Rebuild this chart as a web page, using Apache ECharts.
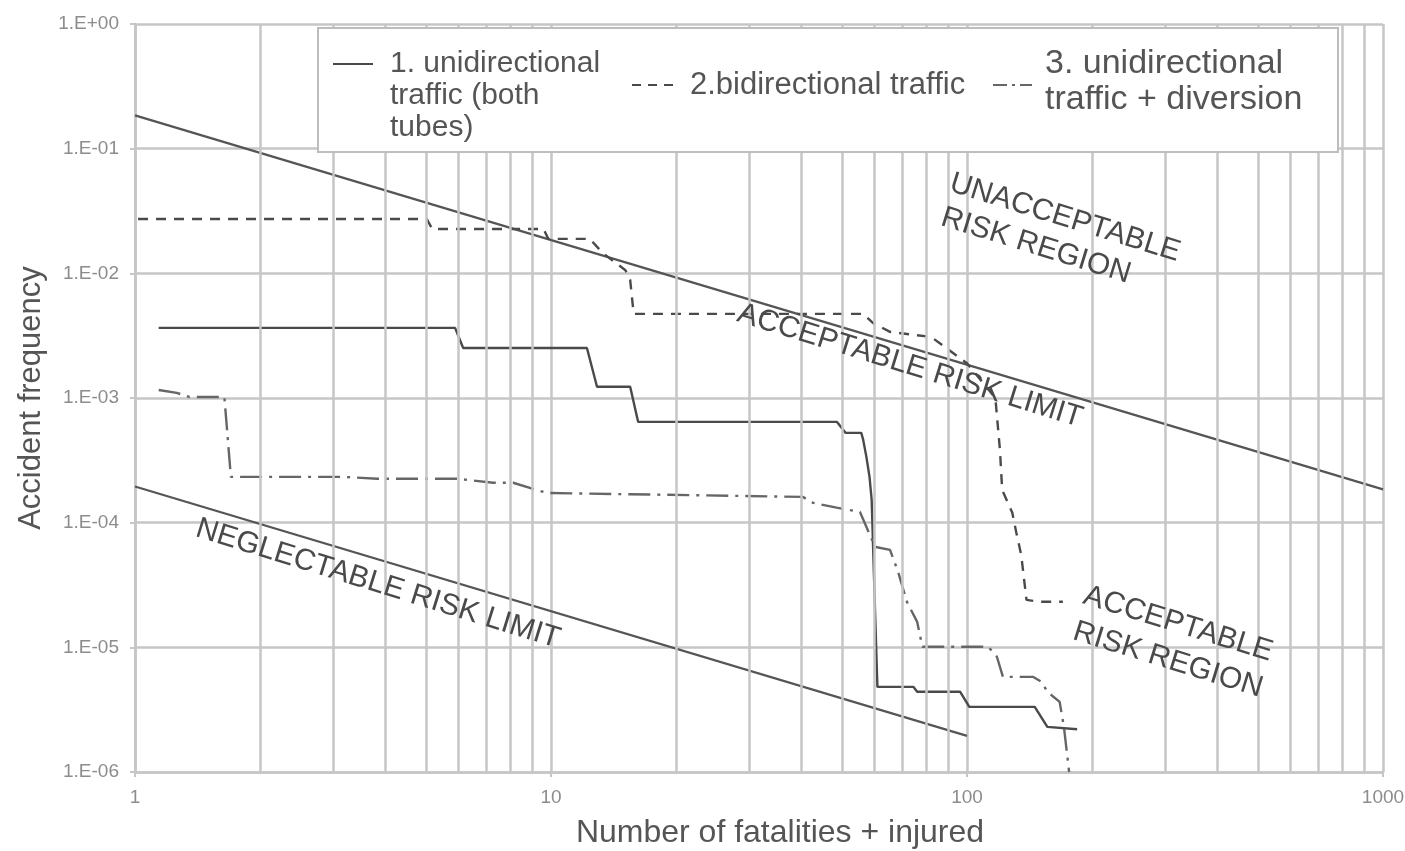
<!DOCTYPE html>
<html>
<head>
<meta charset="utf-8">
<script src="https://cdn.jsdelivr.net/npm/echarts@6/dist/echarts.min.js"></script>
<style>
  html, body { margin: 0; padding: 0; background: #fff; }
  #chart { width: 1405px; height: 851px; }
</style>
</head>
<body>
<div id="chart"></div>
<script>
// F-N curves: accident frequency against number of fatalities + injured

// 1. unidirectional traffic (both tubes)
const unidirN = [1.14, 5.88, 6.15, 12.2, 12.9, 15.5, 16.2, 48.7, 51.1, 55.7, 56.3, 57.3, 58.3, 59.0, 60.0, 60.9, 74.3, 75.9, 96.3, 101.3, 145.5, 156, 184];
const unidirF = [3.65e-3, 3.65e-3, 2.52e-3, 2.52e-3, 1.23e-3, 1.23e-3, 6.43e-4, 6.43e-4, 5.25e-4, 5.25e-4, 4.61e-4, 3.37e-4, 2.33e-4, 1.52e-4, 2.4e-5, 4.82e-6, 4.82e-6, 4.4e-6, 4.4e-6, 3.33e-6, 3.33e-6, 2.3e-6, 2.2e-6];

// 2. bidirectional traffic
const bidirN = [1.017, 5.03, 5.18, 9.6, 9.85, 12.4, 13.3, 15.1, 15.5, 15.8, 56.3, 59.4, 65.3, 82, 100, 117, 120, 121.5, 128.5, 131.4, 135, 139, 149.8, 170];
const bidirF = [2.73e-2, 2.73e-2, 2.27e-2, 2.27e-2, 1.89e-2, 1.89e-2, 1.46e-2, 1.06e-2, 8.85e-3, 4.73e-3, 4.73e-3, 4.0e-3, 3.39e-3, 3.09e-3, 1.9e-3, 1.0e-3, 3.83e-4, 1.83e-4, 1.2e-4, 8.3e-5, 5.5e-5, 2.4e-5, 2.32e-5, 2.32e-5];

// 3. unidirectional traffic + diversion
const diverN = [1.14, 1.26, 1.35, 1.64, 1.70, 3.16, 3.82, 5.94, 7.26, 8.11, 9.78, 40.3, 42.7, 48.6, 55.3, 60.1, 65.3, 68.3, 71.7, 75.9, 78.1, 112.5, 118, 122, 144, 151, 156, 167, 171, 176];
const diverF = [1.16e-3, 1.1e-3, 1.02e-3, 1.02e-3, 2.33e-4, 2.33e-4, 2.25e-4, 2.25e-4, 2.09e-4, 2.09e-4, 1.73e-4, 1.61e-4, 1.44e-4, 1.32e-4, 1.22e-4, 6.4e-5, 6.05e-5, 4.03e-5, 2.32e-5, 1.6e-5, 1.01e-5, 1.01e-5, 8.4e-6, 5.8e-6, 5.8e-6, 5.3e-6, 4.4e-6, 3.65e-6, 2.3e-6, 1e-6];

// Risk criteria lines
const acceptLimitN = [1, 1000];
const acceptLimitF = [0.185, 1.85e-4];
const neglectLimitN = [1, 100];
const neglectLimitF = [1.95e-4, 1.95e-6];

// Intermediate vertical grid positions (2..9 within each decade)
const minorGridN = [2, 3, 4, 5, 6, 7, 8, 9, 20, 30, 40, 50, 60, 70, 80, 90, 200, 300, 400, 500, 600, 700, 800, 900];

const legendNames = ['1. unidirectional\ntraffic (both\ntubes)', '2.bidirectional traffic', '3. unidirectional\ntraffic + diversion'];

const xAxisName = 'Number of fatalities + injured';
const yAxisName = 'Accident frequency';

const FONT = '"Liberation Sans", Arial, sans-serif';
const GRID = '#c6c6c6';
const INK = '#4a4a4a';
const DASH = [10, 8];
const DASH_DOT = [22, 7, 3, 7];

const pairs = (xs, ys) => xs.map((x, i) => [x, ys[i]]);

const yLabel = v => {
  const e = Math.round(Math.log10(v));
  return '1.E' + (e >= 0 ? '+' : '-') + String(Math.abs(e)).padStart(2, '0');
};

const chart = echarts.init(document.getElementById('chart'), null, { renderer: 'canvas' });

const legendText = (text, x, y, size, lh) => ({
  type: 'text', x, y, z: 101,
  style: { text, fill: '#555', font: size + 'px ' + FONT, align: 'left', verticalAlign: 'middle', lineHeight: lh }
});
const legendLine = (x1, x2, y, dash, color) => ({
  type: 'line', z: 101,
  shape: { x1, y1: y, x2, y2: y },
  style: { stroke: color, lineWidth: 2.2, lineDash: dash }
});
const note = (text, x, y) => ({
  type: 'text', x, y, rotation: -0.30, z: 50,
  style: { text, fill: INK, font: '30px ' + FONT, align: 'center', verticalAlign: 'middle' }
});

chart.setOption({
  backgroundColor: '#fff',
  animation: false,
  grid: { left: 135, right: 22, top: 24, bottom: 79, outerBoundsMode: 'none', containLabel: false },
  xAxis: {
    type: 'log', logBase: 10, min: 1, max: 1000,
    name: xAxisName, nameLocation: 'middle', nameGap: 45,
    nameTextStyle: { color: '#555', fontSize: 32, fontFamily: FONT, padding: [0, 0, 0, 42] },
    axisLine: { show: true, lineStyle: { color: GRID, width: 2.5 } },
    axisTick: { show: true, inside: false, length: 5, lineStyle: { color: GRID, width: 2 } },
    axisLabel: { color: '#8c8c8c', fontSize: 19, fontFamily: FONT, margin: 16, formatter: v => String(Math.round(v)) },
    splitLine: { show: true, lineStyle: { color: GRID, width: 2.5 } }
  },
  yAxis: {
    type: 'log', logBase: 10, min: 1e-6, max: 1,
    name: yAxisName, nameLocation: 'middle', nameGap: 88, nameRotate: 90,
    nameTextStyle: { color: '#555', fontSize: 31, fontFamily: FONT },
    axisLine: { show: true, lineStyle: { color: GRID, width: 2.5 } },
    axisTick: { show: true, inside: false, length: 5, lineStyle: { color: GRID, width: 2 } },
    axisLabel: { color: '#8c8c8c', fontSize: 19, fontFamily: FONT, margin: 16, formatter: yLabel },
    splitLine: { show: true, lineStyle: { color: GRID, width: 2.5 } }
  },
  series: [
    {
      name: 'minor grid', type: 'line', data: [], silent: true,
      markLine: {
        silent: true, symbol: 'none', label: { show: false },
        lineStyle: { color: GRID, width: 2.5, type: 'solid' },
        data: minorGridN.map(n => ({ xAxis: n }))
      }
    },
    {
      name: 'acceptable risk limit', type: 'line', data: pairs(acceptLimitN, acceptLimitF),
      symbol: 'none', lineStyle: { color: '#555', width: 2.2 }, z: 3
    },
    {
      name: 'neglectable risk limit', type: 'line', data: pairs(neglectLimitN, neglectLimitF),
      symbol: 'none', lineStyle: { color: '#555', width: 2.2 }, z: 3
    },
    {
      name: legendNames[0], type: 'line', data: pairs(unidirN, unidirF),
      symbol: 'none', lineStyle: { color: INK, width: 2.4, type: 'solid' }, z: 4
    },
    {
      name: legendNames[1], type: 'line', data: pairs(bidirN, bidirF),
      symbol: 'none', lineStyle: { color: INK, width: 2.4, type: DASH }, z: 4
    },
    {
      name: legendNames[2], type: 'line', data: pairs(diverN, diverF),
      symbol: 'none', lineStyle: { color: '#666', width: 2.4, type: DASH_DOT }, z: 4
    }
  ],
  graphic: [
    // legend box
    {
      type: 'rect', z: 100,
      shape: { x: 318, y: 28, width: 1020, height: 124 },
      style: { fill: '#fff', stroke: '#bdbdbd', lineWidth: 2 }
    },
    legendLine(333, 373, 64, null, INK),
    legendText(legendNames[0], 390, 96, 30, 32),
    legendLine(632, 675, 85, [9, 7], INK),
    legendText(legendNames[1], 690, 85, 31, 32),
    legendLine(993, 1032, 85, [14, 5, 3, 5], '#666'),
    legendText(legendNames[2], 1045, 82, 34, 36),
    // region and limit annotations
    note('UNACCEPTABLE', 1065, 218),
    note('RISK REGION', 1036, 246),
    note('ACCEPTABLE RISK LIMIT', 910, 366),
    note('NEGLECTABLE RISK LIMIT', 378, 584),
    note('ACCEPTABLE', 1178, 624),
    note('RISK REGION', 1168, 660)
  ]
});
</script>
</body>
</html>
